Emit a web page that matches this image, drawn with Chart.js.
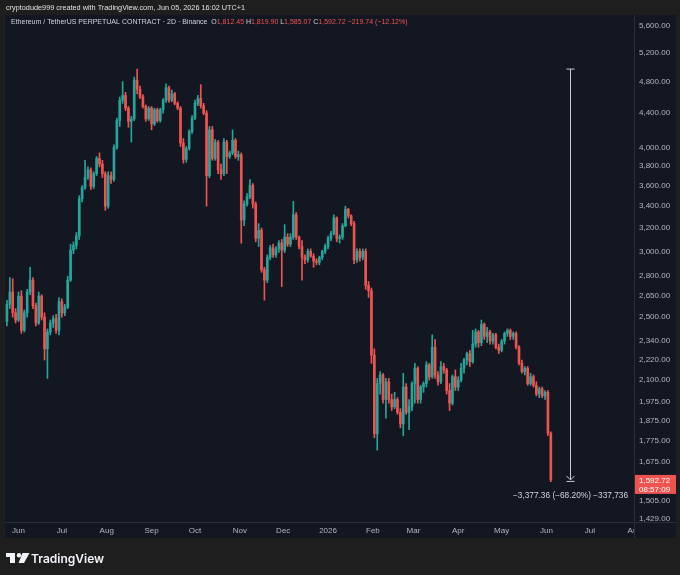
<!DOCTYPE html>
<html>
<head>
<meta charset="utf-8">
<title>ETHUSDT.P 2D</title>
<script src="https://cdn.jsdelivr.net/npm/chart.js@4.4.1/dist/chart.umd.min.js"></script>
<style>
  html, body { margin: 0; padding: 0; background: #1e1e1e; }
  canvas { display: block; }
</style>
</head>
<body>
<canvas id="myChart" width="680" height="575"></canvas>
<script>
// 2D candles, ETHUSDT perpetual (Binance), 24 May 2025 -> 4 Jun 2026
// day numbers count from 1 Jun 2025 = 0
const FIRST_BAR_DAY = -8;
const BAR_STEP_DAYS = 2;

const opens = [
  2470, 2590, 2680, 2530, 2480, 2650, 2410, 2530, 2680, 2770,
  2580, 2460, 2650, 2500, 2290, 2400, 2460, 2490, 2410, 2610,
  2530, 2570, 2770, 3010, 3050, 3130, 3470, 3580, 3680, 3760,
  3590, 3720, 3880, 3820, 3720, 3400, 3700, 3660, 4000, 4310,
  4560, 4620, 4460, 4300, 4330, 4820, 4700, 4600, 4480, 4330,
  4460, 4270, 4440, 4310, 4440, 4560, 4720, 4560, 4640, 4520,
  4460, 4050, 3870, 3990, 4180, 4340, 4520, 4580, 4490, 4400,
  3700, 4200, 3880, 4060, 3760, 3720, 4060, 3900, 3940, 4080,
  3900, 3920, 3272, 3420, 3490, 3600, 3420, 3110, 3180, 2850,
  2770, 2950, 3030, 2970, 3020, 3070, 3010, 3120, 3060, 3120,
  3320, 3120, 3040, 2950, 2930, 3000, 2960, 2920, 2910, 2950,
  3000, 3040, 3110, 3150, 3290, 3110, 3120, 3220, 3370, 3310,
  3240, 2930, 3000, 2950, 3000, 2730, 2690, 2250, 1810, 2080,
  2130, 1990, 2090, 1990, 1950, 1990, 1920, 1860, 2060, 1920,
  1950, 2080, 2170, 1990, 2060, 2080, 2190, 2120, 2300, 2130,
  2090, 2180, 2160, 2040, 1970, 2120, 2060, 2100, 2170, 2220,
  2260, 2210, 2320, 2400, 2330, 2450, 2370, 2400, 2340, 2380,
  2300, 2280, 2340, 2390, 2410, 2370, 2390, 2300, 2200, 2150,
  2170, 2080, 2120, 2070, 2020, 2050, 2010, 2030, 1812.45
];
const highs = [
  2620, 2790, 2780, 2560, 2680, 2690, 2550, 2700, 2870, 2790,
  2600, 2680, 2660, 2530, 2420, 2480, 2510, 2520, 2640, 2630,
  2590, 2800, 3060, 3080, 3160, 3500, 3600, 3860, 3790, 3780,
  3740, 3900, 3940, 3860, 3740, 3740, 3740, 4030, 4340, 4600,
  4800, 4660, 4480, 4360, 4860, 4970.08, 4740, 4630, 4500, 4480,
  4480, 4460, 4460, 4460, 4580, 4770, 4740, 4690, 4660, 4540,
  4480, 4100, 4010, 4200, 4370, 4560, 4620, 4760, 4520, 4430,
  4240, 4240, 4090, 4080, 3820, 4100, 4080, 3960, 4200, 4100,
  3960, 3940, 3450, 3520, 3660, 3620, 3440, 3240, 3200, 2870,
  2970, 3050, 3060, 3040, 3090, 3100, 3230, 3150, 3150, 3445,
  3340, 3130, 3090, 2970, 3020, 3020, 2980, 2940, 2960, 3010,
  3060, 3130, 3170, 3320, 3300, 3140, 3240, 3400, 3380, 3320,
  3260, 3020, 3020, 3020, 3020, 2760, 2710, 2290, 2110, 2150,
  2140, 2110, 2110, 2020, 2030, 2000, 1940, 2140, 2080, 1990,
  2090, 2200, 2180, 2070, 2090, 2210, 2200, 2380, 2350, 2150,
  2210, 2200, 2170, 2080, 2130, 2160, 2120, 2200, 2230, 2270,
  2280, 2410, 2420, 2410, 2480, 2460, 2430, 2410, 2390, 2390,
  2320, 2350, 2400, 2420, 2420, 2400, 2400, 2310, 2220, 2180,
  2180, 2140, 2130, 2090, 2060, 2060, 2040, 2040, 1819.90
];
const lows = [
  2440, 2560, 2500, 2460, 2470, 2390, 2400, 2500, 2660, 2560,
  2440, 2450, 2480, 2220, 2110, 2380, 2430, 2390, 2380, 2500,
  2510, 2560, 2760, 2980, 3020, 3100, 3440, 3560, 3660, 3560,
  3570, 3700, 3790, 3680, 3360, 3380, 3620, 3640, 3980, 4240,
  4520, 4430, 4230, 4060, 4310, 4640, 4580, 4460, 4300, 4310,
  4200, 4250, 4290, 4290, 4400, 4530, 4530, 4540, 4500, 4440,
  4010, 3830, 3840, 3970, 4160, 4320, 4490, 4460, 4380, 3400,
  3680, 3860, 3860, 3720, 3660, 3700, 3720, 3880, 3920, 3880,
  3860, 3068, 3220, 3400, 3470, 3380, 3080, 3040, 2830, 2620,
  2750, 2930, 2950, 2950, 2990, 2720, 2990, 3040, 3040, 3100,
  3100, 3020, 2770, 2900, 2910, 2950, 2870, 2890, 2890, 2930,
  2980, 3020, 3090, 3140, 3080, 3070, 3100, 3210, 3290, 3220,
  2900, 2910, 2920, 2930, 2700, 2640, 2200, 1790, 1730, 2020,
  1970, 1890, 1970, 1930, 1940, 1910, 1840, 1800, 1910, 1830,
  1930, 1970, 1970, 1970, 2030, 2060, 2100, 2110, 2110, 2070,
  2080, 2140, 2020, 1930, 1960, 2040, 2040, 2090, 2140, 2190,
  2180, 2200, 2300, 2300, 2310, 2350, 2330, 2320, 2320, 2290,
  2260, 2270, 2320, 2370, 2350, 2350, 2290, 2190, 2140, 2130,
  2070, 2070, 2060, 2010, 2000, 2000, 1990, 1800, 1585.07
];
const closes = [
  2590, 2680, 2530, 2480, 2650, 2410, 2530, 2680, 2770, 2580,
  2460, 2650, 2500, 2290, 2400, 2460, 2490, 2410, 2610, 2530,
  2570, 2770, 3010, 3050, 3130, 3470, 3580, 3680, 3760, 3590,
  3720, 3880, 3820, 3720, 3400, 3700, 3660, 4000, 4310, 4560,
  4620, 4460, 4300, 4330, 4820, 4700, 4600, 4480, 4330, 4460,
  4270, 4440, 4310, 4440, 4560, 4720, 4560, 4640, 4520, 4460,
  4050, 3870, 3990, 4180, 4340, 4520, 4580, 4490, 4400, 3700,
  4200, 3880, 4060, 3760, 3720, 4060, 3900, 3940, 4080, 3900,
  3920, 3272, 3420, 3490, 3600, 3420, 3110, 3180, 2850, 2770,
  2950, 3030, 2970, 3020, 3070, 3010, 3120, 3060, 3120, 3320,
  3120, 3040, 2950, 2930, 3000, 2960, 2920, 2910, 2950, 3000,
  3040, 3110, 3150, 3290, 3110, 3120, 3220, 3370, 3310, 3240,
  2930, 3000, 2950, 3000, 2730, 2690, 2250, 1810, 2080, 2130,
  1990, 2090, 1990, 1950, 1990, 1920, 1860, 2060, 1920, 1950,
  2080, 2170, 1990, 2060, 2080, 2190, 2120, 2300, 2130, 2090,
  2180, 2160, 2040, 1970, 2120, 2060, 2100, 2170, 2220, 2260,
  2210, 2320, 2400, 2330, 2450, 2370, 2400, 2340, 2380, 2300,
  2280, 2340, 2390, 2410, 2370, 2390, 2300, 2200, 2150, 2170,
  2080, 2120, 2070, 2020, 2050, 2010, 2030, 1812.45, 1592.72
];

const yTickValues = [1429, 1505, 1675, 1775, 1875, 1975, 2100, 2220, 2340, 2500,
  2650, 2800, 3000, 3200, 3400, 3600, 3800, 4000, 4400, 4800, 5200, 5600];
const monthLabels = ['Jun', 'Jul', 'Aug', 'Sep', 'Oct', 'Nov', 'Dec', '2026',
  'Feb', 'Mar', 'Apr', 'May', 'Jun', 'Jul', 'Aug'];
const monthDays = [0, 30, 61, 92, 122, 153, 183, 214, 245, 273, 304, 334, 365, 395, 426];

// measuring tool: ATH high -> last close
const measureFrom = 4970.08;
const measureTo = 1592.72;
const MEASURE_DAY = 381;
const measureText = '\u22123,377.36 (\u221268.20%) \u2212337,736';
const changeText = '\u2212219.74 (\u221212.12%)';

const UP = '#26a69a';
const DOWN = '#ef5350';
const TEXT = '#d1d4dc';
const AXIS_TEXT = '#b2b5be';
const FONT = "'Liberation Sans', Arial, sans-serif";

const barDays = closes.map((_, i) => FIRST_BAR_DAY + BAR_STEP_DAYS * i);
const candleColors = closes.map((c, i) => (c >= opens[i] ? UP : DOWN));

const bodies = closes.map((c, i) => ({ x: barDays[i], y: [opens[i], c] }));
const wicks = closes.map((c, i) => ({ x: barDays[i], y: [lows[i], highs[i]] }));

function fmt(v) {
  return v.toLocaleString('en-US', { minimumFractionDigits: 2, maximumFractionDigits: 2 });
}

function drawRuns(c, runs, x, y) {
  runs.forEach(([txt, col]) => {
    c.fillStyle = col;
    c.fillText(txt, x, y);
    x += c.measureText(txt).width;
  });
}

const tvFrame = {
  id: 'tvFrame',
  beforeDraw(chart) {
    const c = chart.ctx;
    c.save();
    c.fillStyle = '#1e1e1e';
    c.fillRect(0, 0, chart.width, chart.height);
    c.fillStyle = '#131722';
    c.fillRect(5, 15, 671, 523);
    c.restore();
  },
  afterDraw(chart) {
    const c = chart.ctx;
    const xs = chart.scales.x;
    const ys = chart.scales.y;
    const area = chart.chartArea;
    c.save();

    // axis separators
    c.strokeStyle = '#2a2e39';
    c.lineWidth = 1;
    c.beginPath();
    c.moveTo(5, area.bottom + 0.5);
    c.lineTo(676, area.bottom + 0.5);
    c.moveTo(area.right + 0.5, 15);
    c.lineTo(area.right + 0.5, 538);
    c.stroke();

    // month labels on the time axis
    c.save();
    c.beginPath();
    c.rect(area.left, area.bottom, area.right - area.left, 16);
    c.clip();
    c.font = '8px ' + FONT;
    c.fillStyle = AXIS_TEXT;
    c.textAlign = 'center';
    c.textBaseline = 'middle';
    monthDays.forEach((d, k) => {
      c.fillText(monthLabels[k], xs.getPixelForValue(d), area.bottom + 8.5);
    });
    c.restore();

    // header line
    c.font = '7.3px ' + FONT;
    c.textAlign = 'left';
    c.textBaseline = 'middle';
    c.fillStyle = '#e0e0e0';
    c.fillText('cryptodude999 created with TradingView.com, Jun 05, 2026 16:02 UTC+1', 6, 8);

    // legend
    const n = closes.length - 1;
    c.font = '7px ' + FONT;
    drawRuns(c, [
      ['Ethereum / TetherUS PERPETUAL CONTRACT \u00b7 2D \u00b7 Binance  ', TEXT],
      ['O', TEXT], [fmt(opens[n]), DOWN],
      [' H', TEXT], [fmt(highs[n]), DOWN],
      [' L', TEXT], [fmt(lows[n]), DOWN],
      [' C', TEXT], [fmt(closes[n]) + ' ' + changeText, DOWN]
    ], 11, 22);

    // measure tool
    const mx = Math.round(xs.getPixelForValue(MEASURE_DAY)) + 0.5;
    const my1 = ys.getPixelForValue(measureFrom);
    const my2 = ys.getPixelForValue(measureTo);
    c.strokeStyle = '#c8cbd3';
    c.beginPath();
    c.moveTo(mx - 4, my1); c.lineTo(mx + 4, my1);
    c.moveTo(mx, my1); c.lineTo(mx, my2);
    c.moveTo(mx - 4, my2 - 4); c.lineTo(mx, my2); c.lineTo(mx + 4, my2 - 4);
    c.moveTo(mx - 4, my2 + 1.5); c.lineTo(mx + 4, my2 + 1.5);
    c.stroke();
    c.font = '8.3px ' + FONT;
    c.textAlign = 'center';
    c.fillStyle = TEXT;
    c.fillText(measureText, mx, my2 + 16);

    // last price label
    const py = ys.getPixelForValue(closes[n]);
    c.fillStyle = DOWN;
    c.fillRect(area.right + 1, py - 5, 41, 19);
    c.fillStyle = '#ffffff';
    c.font = '8px ' + FONT;
    c.textAlign = 'left';
    c.fillText(fmt(closes[n]), area.right + 5, py + 0.5);
    c.fillText('08:57:09', area.right + 5, py + 9.5);

    // TradingView logo
    c.fillStyle = '#f0f3fa';
    c.fillRect(6, 553, 9, 4);
    c.fillRect(10, 553, 5, 10);
    c.beginPath();
    c.arc(19, 555.2, 2.2, 0, Math.PI * 2);
    c.fill();
    c.beginPath();
    c.moveTo(22.5, 553); c.lineTo(29.5, 553); c.lineTo(24, 563); c.lineTo(18.5, 563);
    c.closePath();
    c.fill();
    c.font = "600 12px Inter, 'Open Sans', sans-serif";
    c.textBaseline = 'alphabetic';
    c.fillText('TradingView', 31, 563);

    c.restore();
  }
};

Chart.defaults.font.family = FONT;
Chart.defaults.font.size = 8;

const ctx = document.getElementById('myChart').getContext('2d');
const myChart = new Chart(ctx, {
  type: 'bar',
  data: {
    datasets: [
      {
        label: 'body',
        data: bodies,
        backgroundColor: candleColors,
        barThickness: 2,
        grouped: false,
        borderWidth: 0,
        borderSkipped: false
      },
      {
        label: 'wick',
        data: wicks,
        backgroundColor: candleColors,
        barThickness: 1,
        grouped: false,
        borderWidth: 0,
        borderSkipped: false
      }
    ]
  },
  options: {
    responsive: false,
    animation: false,
    layout: { padding: { left: 5, top: 15, right: 4, bottom: 37 } },
    plugins: { legend: { display: false }, tooltip: { enabled: false } },
    scales: {
      x: {
        type: 'linear',
        min: -9.33,
        max: 425.5,
        offset: false,
        bounds: 'data',
        grid: { display: false, drawTicks: false },
        border: { display: false },
        ticks: { display: false },
        afterFit(scale) { scale.height = 16; }
      },
      y: {
        type: 'logarithmic',
        position: 'right',
        min: 1417.5,
        max: 5773,
        bounds: 'data',
        grid: { display: false, drawTicks: false },
        border: { display: false },
        afterBuildTicks(scale) {
          scale.ticks = yTickValues.map(v => ({ value: v }));
        },
        ticks: {
          autoSkip: false,
          color: AXIS_TEXT,
          padding: 5,
          font: { size: 8 },
          callback: v => fmt(v)
        },
        afterFit(scale) { scale.width = 42; }
      }
    }
  },
  plugins: [tvFrame]
});
</script>
</body>
</html>
